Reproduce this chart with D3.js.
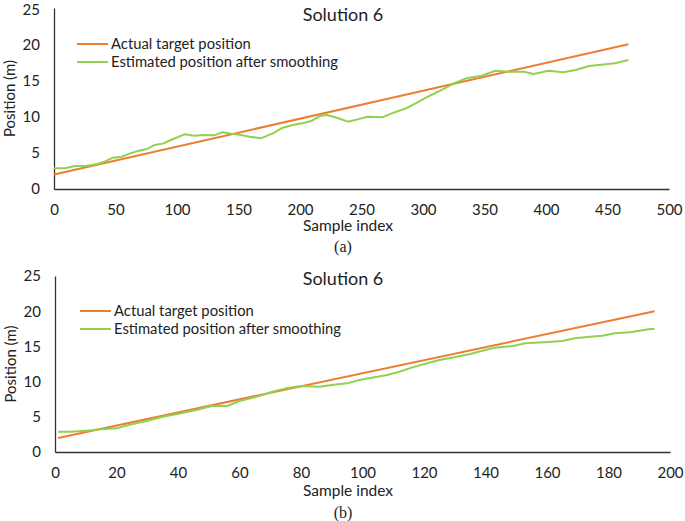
<!DOCTYPE html>
<html><head><meta charset="utf-8">
<script src="https://cdn.jsdelivr.net/npm/d3@7"></script>
<style>body{margin:0;background:#fff}svg{display:block}</style>
</head><body>
<script>
// ---- Data ----
const seriesNames = ["Actual target position", "Estimated position after smoothing"];
const titleText = "Solution 6";
const yTicks = [0, 5, 10, 15, 20, 25];
const xTicksA = [0, 50, 100, 150, 200, 250, 300, 350, 400, 450, 500];
const xTicksB = [0, 20, 40, 60, 80, 100, 120, 140, 160, 180, 200];

const actualA = [[0, 2], [467, 20]];
const estimatedA = [
  [0,2.86],[9,2.86],[17,3.18],[26,3.18],[35,3.45],[41,3.77],[48,4.33],[55,4.46],[62,4.92],[68,5.24],
  [75,5.48],[82,6.08],[89,6.3],[95,6.77],[106,7.55],[114,7.36],[122,7.46],[130,7.41],[137,7.83],[144,7.64],
  [151,7.5],[159,7.23],[168,7.0],[178,7.69],[186,8.47],[194,8.84],[202,9.07],[209,9.39],[216,10.08],[222,10.22],
  [230,9.85],[239,9.3],[247,9.62],[255,9.99],[267,9.9],[276,10.54],[286,11.14],[294,11.83],[302,12.6],[313,13.5],
  [324,14.5],[335,15.29],[347,15.6],[359,16.34],[370,16.2],[382,16.2],[390,15.88],[402,16.34],[414,16.12],[424,16.44],
  [435,16.99],[445,17.17],[456,17.36],[467,17.82]
];
const actualB = [[1, 2], [195, 20]];
const estimatedB = [
  [1,2.88],[5,2.88],[10,3.03],[15,3.22],[20,3.36],[24,3.84],[30,4.45],[35,5.02],[41,5.49],[46,5.97],
  [51,6.53],[56,6.53],[60,7.24],[66,7.9],[71,8.6],[75,9.04],[80,9.37],[86,9.28],[90,9.52],[95,9.75],
  [99,10.23],[103,10.56],[108,10.94],[112,11.4],[116,11.98],[121,12.6],[125,13.07],[129,13.4],[135,13.92],[139,14.39],
  [143,14.82],[149,15.06],[153,15.44],[159,15.58],[165,15.77],[169,16.15],[174,16.38],[178,16.52],[182,16.86],[187,17.0],
  [193,17.43],[195,17.5]
];

const W = 685, H = 521;
const svg = d3.select("body").append("svg").attr("width", W).attr("height", H);
const colors = ["#ED7D31", "#92D050"];
const sans = "Lato, 'Open Sans', sans-serif";
const fs = 15;

function panel(cfg) {
  const x = d3.scaleLinear().domain([cfg.xTicks[0], cfg.xTicks[cfg.xTicks.length - 1]]).range([cfg.left, cfg.right]);
  const y = d3.scaleLinear().domain([0, 25]).range([cfg.bottom, cfg.top]);
  const g = svg.append("g");

  const xa = g.append("g").attr("transform", `translate(0,${cfg.bottom})`)
    .call(d3.axisBottom(x).tickValues(cfg.xTicks).tickSize(0).tickPadding(15).tickFormat(d3.format("d")));
  xa.select(".domain").attr("stroke", "#333").attr("stroke-width", 1.3);
  xa.selectAll("text").attr("font-family", sans).attr("font-size", fs).attr("fill", "#222");

  const ya = g.append("g").attr("transform", `translate(${cfg.left},0)`)
    .call(d3.axisLeft(y).tickValues(yTicks).tickSize(0).tickPadding(14).tickFormat(d3.format("d")));
  ya.select(".domain").attr("stroke", "#333").attr("stroke-width", 1.3);
  ya.selectAll("text").attr("font-family", sans).attr("font-size", fs).attr("fill", "#222");
  // keep the top label fully inside the picture
  ya.selectAll(".tick").filter(d => d === 25).select("text").attr("dy", cfg.topDy);

  const line = d3.line().x(d => x(d[0])).y(d => y(d[1]));
  [cfg.actual, cfg.est].forEach((data, i) => {
    g.append("path").datum(data).attr("d", line).attr("fill", "none")
      .attr("stroke", colors[i]).attr("stroke-width", 2).attr("stroke-linejoin", "round");
  });

  g.append("text").attr("x", 343).attr("y", cfg.titleY).attr("text-anchor", "middle").attr("dy", "0.35em")
    .attr("font-family", sans).attr("font-size", 18).attr("fill", "#222").text(titleText);

  seriesNames.forEach((n, i) => {
    const ly = cfg.legY + i * 18;
    g.append("line").attr("x1", cfg.legX).attr("x2", cfg.legX + 31).attr("y1", ly).attr("y2", ly)
      .attr("stroke", colors[i]).attr("stroke-width", 2);
    g.append("text").attr("x", cfg.legX + 34).attr("y", ly).attr("dy", "0.35em")
      .attr("font-family", sans).attr("font-size", 14.8).attr("fill", "#222").text(n);
  });

  g.append("text").attr("transform", `translate(${cfg.ylabX},${(cfg.top + cfg.bottom) / 2}) rotate(-90)`)
    .attr("text-anchor", "middle").attr("dy", "0.35em")
    .attr("font-family", sans).attr("font-size", fs).attr("fill", "#222").text("Position (m)");
  g.append("text").attr("x", 348).attr("y", cfg.xlabY).attr("text-anchor", "middle").attr("dy", "0.35em")
    .attr("font-family", sans).attr("font-size", 15.5).attr("fill", "#222").text("Sample index");
  g.append("text").attr("x", 343).attr("y", cfg.capY).attr("text-anchor", "middle").attr("dy", "0.35em")
    .attr("font-family", "'Liberation Serif', 'Times New Roman', serif").attr("font-size", 16).attr("fill", "#222").text(cfg.cap);
}

panel({ left: 54, right: 669, top: 8, bottom: 189, xTicks: xTicksA, actual: actualA, est: estimatedA,
  titleY: 15, legX: 77, legY: 44, ylabX: 10, xlabY: 226, capY: 246, cap: "(a)", topDy: "0.45em" });
panel({ left: 55, right: 670, top: 276, bottom: 452, xTicks: xTicksB, actual: actualB, est: estimatedB,
  titleY: 279, legX: 80, legY: 311, ylabX: 11, xlabY: 491, capY: 512, cap: "(b)", topDy: "0.32em" });
</script>
</body></html>
